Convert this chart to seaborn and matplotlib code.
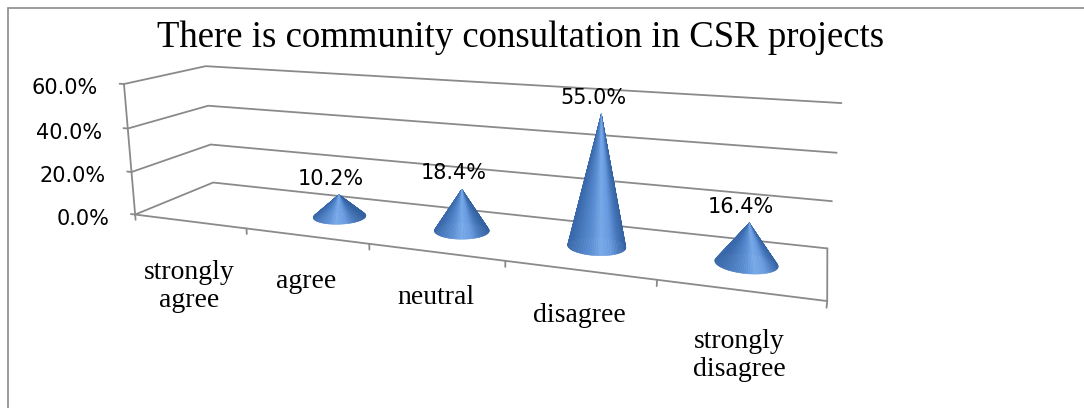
import numpy as np
import matplotlib
matplotlib.use("Agg")
import matplotlib.pyplot as plt
from matplotlib.patches import Rectangle
from mpl_toolkits.mplot3d.art3d import Poly3DCollection
import seaborn as sns

# chart data
categories = ["strongly\nagree", "agree", "neutral", "disagree", "strongly\ndisagree"]
shares = [0.0, 10.2, 18.4, 55.0, 16.4]
value_ticks = [0, 20, 40, 60]
title = "There is community consultation in CSR projects"

FIG_W, FIG_H = 1084, 408
LINE = "#8A8A8A"

# camera of the 3d chart (perspective view like the Excel cone chart)
ELEV, AZIM, FOCAL = 13.80, -69.43, 0.2493
BOX = (1.0, 0.2041, 0.2032)
AX_CX, AX_CY, AX_SIZE = 452.3, 172.5, 703.9  # pixels

sns.set_theme(style="white")
plt.rcParams["font.family"] = ["DejaVu Sans"]
plt.rcParams["text.color"] = "black"

fig = plt.figure(figsize=(FIG_W / 100, FIG_H / 100), dpi=100)
ax = fig.add_axes([(AX_CX - AX_SIZE / 2) / FIG_W, (FIG_H - AX_CY - AX_SIZE / 2) / FIG_H,
                   AX_SIZE / FIG_W, AX_SIZE / FIG_H], projection="3d", computed_zorder=False)
n = len(categories)
ax.set_xlim(0, n)
ax.set_ylim(0, 1)
ax.set_zlim(0, value_ticks[-1])
ax.set_axis_off()
ax.view_init(ELEV, AZIM)
ax.set_proj_type("persp", focal_length=FOCAL)
ax.set_box_aspect(BOX)


def to_2d(x, y, z):
    # 3d data point -> projected 2d data coords of the axes
    M = ax.get_proj()
    v = M @ np.array([x, y, z, 1.0])
    return v[0] / v[3], v[1] / v[3]


# walls, floor, value axis
kw = dict(color=LINE, lw=1.3, zorder=1, clip_on=False)
for z in value_ticks:
    ax.plot([0, 0, n], [0, 1, 1], [z, z, z], **kw)
    ax.plot([0, -0.04], [0, 0], [z, z], **kw)
ax.plot([0, 0], [0, 0], [0, value_ticks[-1]], **kw)
ax.plot([0, n, n], [0, 0, 1], [0, 0, 0], **kw)
for k in range(n + 1):
    ax.plot([k, k], [0, 0], [0, -2.5], **kw)

# cones
cmap = sns.blend_palette(["#3a69ab", "#4a7cc0", "#5b8ed3", "#77a8e8", "#6a9be0", "#4576ba", "#33609e"],
                         as_cmap=True)
rx = 0.2
ry = rx * (BOX[0] / n) / BOX[1]
th = np.linspace(0, 2 * np.pi, 97)
for i, v in enumerate(shares):
    if v <= 0:
        continue
    xc, yc = i + 0.5, 0.5
    verts, cols = [], []
    for a0, a1 in zip(th[:-1], th[1:]):
        verts.append([(xc + rx * np.cos(a0), yc + ry * np.sin(a0), 0),
                      (xc + rx * np.cos(a1), yc + ry * np.sin(a1), 0),
                      (xc, yc, v)])
        u = np.sin((a0 + a1) / 2 - np.deg2rad(AZIM))
        cols.append(cmap((u + 1) / 2))
    cone = Poly3DCollection(verts, facecolors=cols, edgecolors=cols, linewidths=0.4, zorder=3)
    cone.set_clip_on(False)
    ax.add_collection3d(cone)

# labels
for i, (lab, v) in enumerate(zip(categories, shares)):
    px, py = to_2d(i + 0.5, 0, 0)
    drop = 52 + 34 * lab.count("\n")
    ax.annotate(lab, (px, py), xytext=(0, -drop), textcoords="offset pixels", ha="center",
                va="baseline", fontsize=20, family="Liberation Serif", annotation_clip=False,
                linespacing=1.15)
    if v > 0:
        px, py = to_2d(i + 0.5, 0.5, v)
        ax.annotate(f"{v:.1f}%", (px, py), xytext=(-8, 16), textcoords="offset pixels",
                    ha="center", va="center", fontsize=15, annotation_clip=False)
for z in value_ticks:
    px, py = to_2d(0, 0, z)
    ax.annotate(f"{z:.1f}%", (px, py), xytext=(-26, -4), textcoords="offset pixels",
                ha="right", va="center", fontsize=15, annotation_clip=False)

fig.text(521 / FIG_W, 1 - 47 / FIG_H, title, ha="center", va="baseline", fontsize=26.5,
         family="Liberation Serif")
fig.patches.append(Rectangle((8 / FIG_W, -0.1), 1.2, 1.1 - 8 / FIG_H, transform=fig.transFigure,
                             fill=False, edgecolor=LINE, lw=1.2))

fig.savefig("out.png", dpi=100)
